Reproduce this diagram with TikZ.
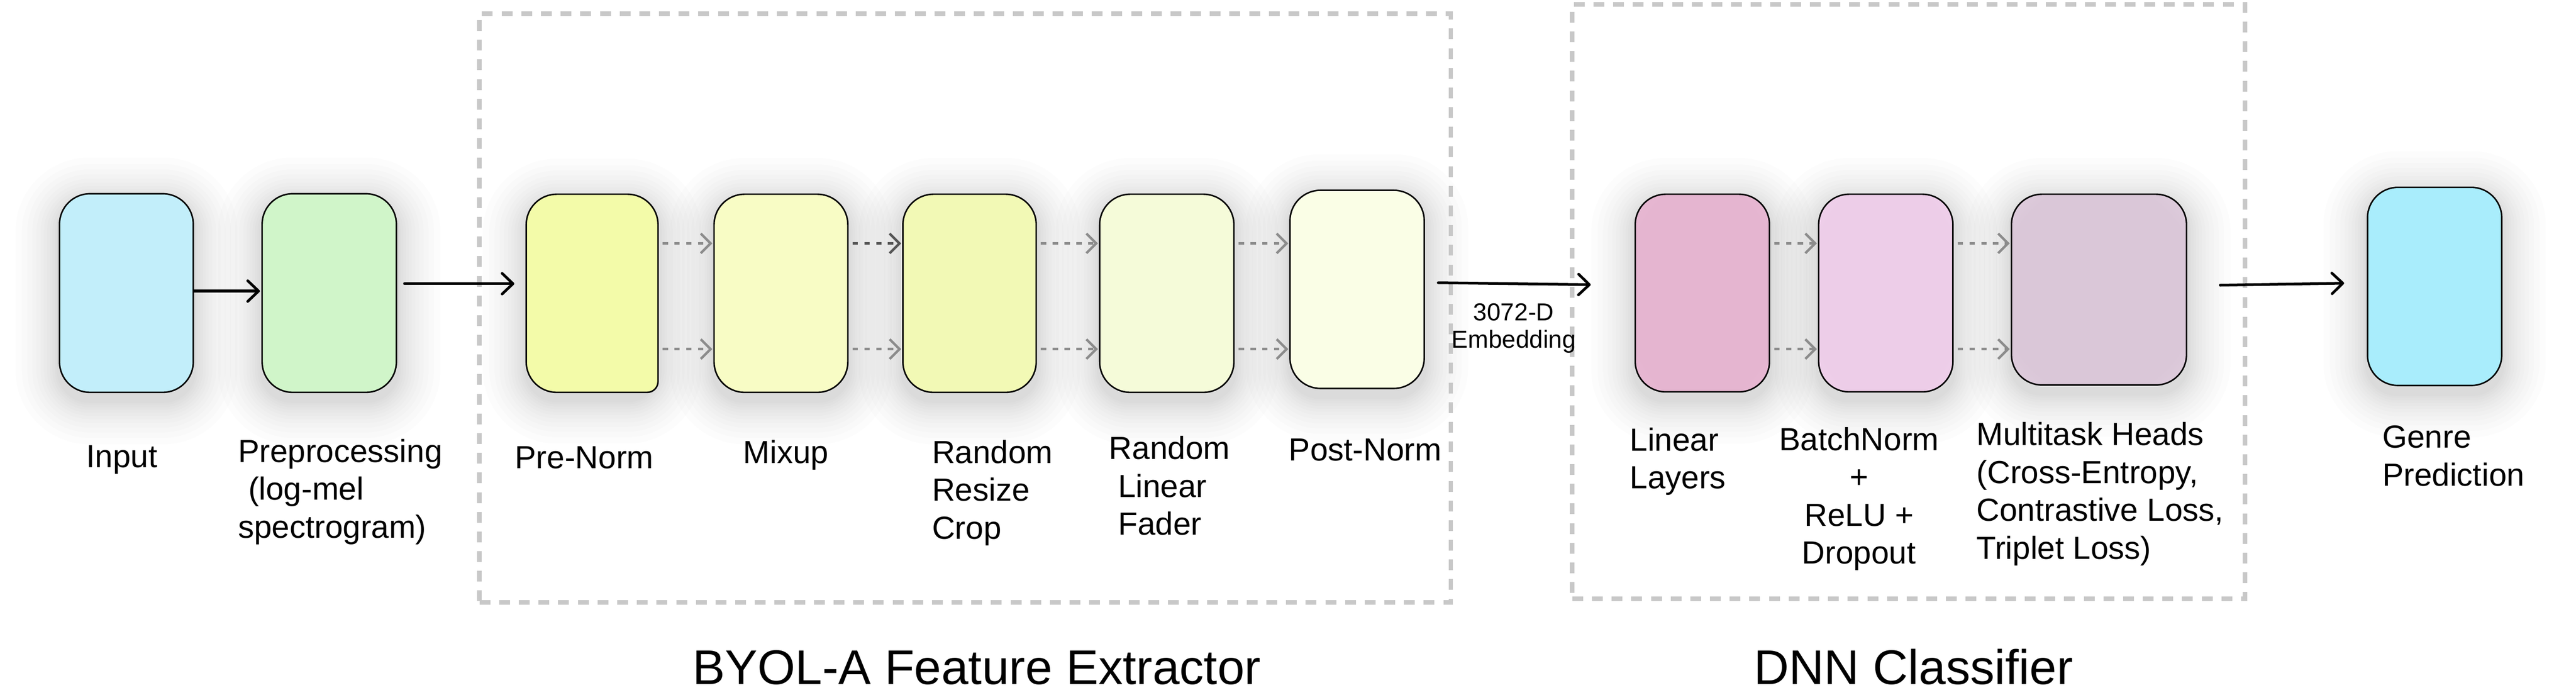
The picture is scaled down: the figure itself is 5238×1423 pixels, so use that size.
\documentclass[tikz,border=0pt]{standalone}
\usepackage{fontspec}
\setmainfont{Liberation Sans}
\usetikzlibrary{arrows.meta}
\definecolor{cInput}{HTML}{C2EEFA}
\definecolor{cPrep}{HTML}{D0F5C9}
\definecolor{cPre}{HTML}{F3FBA9}
\definecolor{cMix}{HTML}{F8FCC5}
\definecolor{cRRC}{HTML}{F2F9B5}
\definecolor{cRLF}{HTML}{F5FBD9}
\definecolor{cPost}{HTML}{FAFEE6}
\definecolor{cLinIn}{HTML}{E5B5D0}
\definecolor{cLinOut}{HTML}{EFC3DC}
\definecolor{cBNIn}{HTML}{EDCDE8}
\definecolor{cBNOut}{HTML}{F5D8F1}
\definecolor{cMTIn}{HTML}{DAC7D8}
\definecolor{cMTOut}{HTML}{EBDCE9}
\definecolor{cGenre}{HTML}{A9EDFC}
\definecolor{dotgray}{HTML}{8C8C8C}
\definecolor{dotdark}{HTML}{555555}
\definecolor{frame}{HTML}{C8C8C8}
\pgfdeclareradialshading{linsh}{\pgfpointorigin}{color(0bp)=(cLinIn); color(28bp)=(cLinIn); color(50bp)=(cLinOut); color(72bp)=(cLinOut)}
\pgfdeclareradialshading{bnsh}{\pgfpointorigin}{color(0bp)=(cBNIn); color(28bp)=(cBNIn); color(50bp)=(cBNOut); color(72bp)=(cBNOut)}
\pgfdeclareradialshading{mtsh}{\pgfpointorigin}{color(0bp)=(cMTIn); color(28bp)=(cMTIn); color(50bp)=(cMTOut); color(72bp)=(cMTOut)}
\pgfdeclarelayer{bg}
\pgfsetlayers{bg,main}
\newcommand{\softshadow}[1]{%
  \begin{pgfonlayer}{bg}
  \foreach \r in {4,8,13,18,24,30,37,45,54,64,75,88} {%
    \pgfmathsetmacro{\rr}{62+\r}%
    \fill[black, fill opacity=0.012, rounded corners=\rr pt]
      ([xshift=-\r pt, yshift=-\r pt-16pt]#1.south west) rectangle ([xshift=\r pt, yshift=\r pt-16pt]#1.north east);
  }
  \end{pgfonlayer}}
\tikzset{
  box/.style={draw=black, line width=3pt, rounded corners=62pt, inner sep=0pt},
  boxpath/.style={draw=black, line width=3pt},
  ghost/.style={inner sep=0pt},
  grp/.style={draw=frame, line width=9pt, dash pattern=on 22pt off 18pt, inner sep=0pt},
  lbl/.style={font=\fontsize{65}{77}\selectfont, inner sep=0pt, text=black},
  ttl/.style={font=\fontsize{99}{110}\selectfont, inner sep=0pt, text=black},
  emb/.style={font=\fontsize{50}{56}\selectfont, inner sep=0pt, text=black, align=center},
  arr/.style={draw=black, line width=5.5pt, line cap=round, -{Straight Barb[length=22pt,width=42pt,round]}},
  dotarr/.style={draw=dotgray, line width=5pt, dash pattern=on 11pt off 13pt, -{Straight Barb[length=20pt,width=40pt]}},
}
\begin{document}
\begin{tikzpicture}[x=1pt,y=-1pt]
\useasboundingbox (0,0) rectangle (5238,1423);
\begin{pgfonlayer}{bg}
\fill[white] (0,0) rectangle (5238,1423);
\end{pgfonlayer}

% group frames
\node[grp, minimum width=1975pt, minimum height=1197pt] (byol) at (1962.5,626.5) {};
\node[grp, minimum width=1368pt, minimum height=1209pt] (dnn) at (3881,613.5) {};

% boxes
\node[box, fill=cInput, minimum width=272pt, minimum height=404pt] (input) at (257,596) {};
\node[box, fill=cPrep, minimum width=273pt, minimum height=404pt] (prep) at (669.5,596) {};
\node[ghost, minimum width=268pt, minimum height=403pt] (pre) at (1204,596.5) {};
\path[boxpath, fill=cPre] (1070,457) arc[start angle=180, end angle=270, radius=62]
  -- (1276,395) arc[start angle=270, end angle=360, radius=62]
  -- (1338,776) arc[start angle=0, end angle=90, radius=22]
  -- (1132,798) arc[start angle=90, end angle=180, radius=62] -- cycle;
\node[box, fill=cMix, minimum width=272pt, minimum height=403pt] (mix) at (1588,596.5) {};
\node[box, fill=cRRC, minimum width=271pt, minimum height=403pt] (rrc) at (1971.5,596.5) {};
\node[box, fill=cRLF, minimum width=273pt, minimum height=403pt] (rlf) at (2372.5,596.5) {};
\node[box, fill=cPost, minimum width=273pt, minimum height=403pt] (post) at (2759.5,588.5) {};
\node[box, shading=linsh, minimum width=273pt, minimum height=402pt] (lin) at (3461.5,596) {};
\node[box, shading=bnsh, minimum width=273pt, minimum height=402pt] (bn) at (3834.5,596) {};
\node[box, shading=mtsh, minimum width=356pt, minimum height=388pt] (mt) at (4268,589) {};
\node[box, fill=cGenre, minimum width=273pt, minimum height=403pt] (genre) at (4950.5,582.5) {};

% soft shadows (background layer)
\softshadow{input}
\softshadow{prep}
\softshadow{pre}
\softshadow{mix}
\softshadow{rrc}
\softshadow{rlf}
\softshadow{post}
\softshadow{lin}
\softshadow{bn}
\softshadow{mt}
\softshadow{genre}

% solid arrows
\draw[arr, shorten >=3pt] ([yshift=4pt]input.east) -- ([yshift=4pt]prep.west);
\draw[arr] ([xshift=15pt,yshift=19pt]prep.east) -- ([xshift=-24pt,yshift=19.5pt]pre.west);
\draw[arr] ([xshift=27pt,yshift=13.5pt]post.east) -- ([xshift=-89pt,yshift=17pt]lin.west);
\draw[arr] ([xshift=67pt,yshift=9pt]mt.east) -- ([xshift=-46pt,yshift=6.5pt]genre.west);

% dotted arrows
\draw[dotarr, shorten <=9pt, shorten >=2pt] (pre.east |- 0,495) -- (mix.west |- 0,495);
\draw[dotarr, shorten <=9pt, shorten >=2pt] (pre.east |- 0,710) -- (mix.west |- 0,710);
\draw[dotarr, draw=dotdark, shorten <=8pt, shorten >=2pt] (mix.east |- 0,495) -- (rrc.west |- 0,495);
\draw[dotarr, shorten <=8pt, shorten >=2pt] (mix.east |- 0,710) -- (rrc.west |- 0,710);
\draw[dotarr, shorten <=8pt, shorten >=2pt] (rrc.east |- 0,495) -- (rlf.west |- 0,495);
\draw[dotarr, shorten <=8pt, shorten >=2pt] (rrc.east |- 0,710) -- (rlf.west |- 0,710);
\draw[dotarr, shorten <=8pt, shorten >=2pt] (rlf.east |- 0,495) -- (post.west |- 0,495);
\draw[dotarr, shorten <=8pt, shorten >=2pt] (rlf.east |- 0,710) -- (post.west |- 0,710);
\draw[dotarr, shorten <=8pt, shorten >=2pt] (lin.east |- 0,495) -- (bn.west |- 0,495);
\draw[dotarr, shorten <=8pt, shorten >=2pt] (lin.east |- 0,710) -- (bn.west |- 0,710);
\draw[dotarr, shorten <=8pt, shorten >=2pt] (bn.east |- 0,495) -- (mt.west |- 0,495);
\draw[dotarr, shorten <=8pt, shorten >=2pt] (bn.east |- 0,710) -- (mt.west |- 0,710);

% embedding label (anchor = baseline of last line)
\node[emb, anchor=base] (embl) at (3078,708) {3072-D\\Embedding};

% labels (multi-line: anchor on baseline of last line)
\node[lbl, anchor=base] (linput) at (248,951) {Input};
\node[lbl, anchor=base west, align=left] (lprep) at (484,1094) {Preprocessing\\\hspace*{0.32em}(log-mel\\spectrogram)};
\node[lbl, anchor=base] (lpre) at (1188,953) {Pre-Norm};
\node[lbl, anchor=base] (lmix) at (1598,942) {Mixup};
\node[lbl, anchor=base west, align=left] (lrrc) at (1895,1096) {Random\\Resize\\Crop};
\node[lbl, anchor=base west, align=left] (lrlf) at (2255,1088) {Random\\\hspace*{0.28em}Linear\\\hspace*{0.28em}Fader};
\node[lbl, anchor=base] (lpost) at (2776,937) {Post-Norm};
\node[lbl, anchor=base west, align=left] (llin) at (3314,994) {Linear\\Layers};
\node[lbl, anchor=base, align=center] (lbn) at (3780,1147) {BatchNorm\\+\\ReLU +\\Dropout};
\node[lbl, anchor=base west, align=left] (lmt) at (4019,1137) {Multitask Heads\\(Cross-Entropy,\\Contrastive Loss,\\Triplet Loss)};
\node[lbl, anchor=base west, align=left] (lgen) at (4844,988) {Genre\\Prediction};

% titles
\node[ttl, anchor=base] (tbyol) at (1986,1392) {BYOL-A Feature Extractor};
\node[ttl, anchor=base] (tdnn) at (3891,1392) {DNN Classifier};
\end{tikzpicture}
\end{document}
